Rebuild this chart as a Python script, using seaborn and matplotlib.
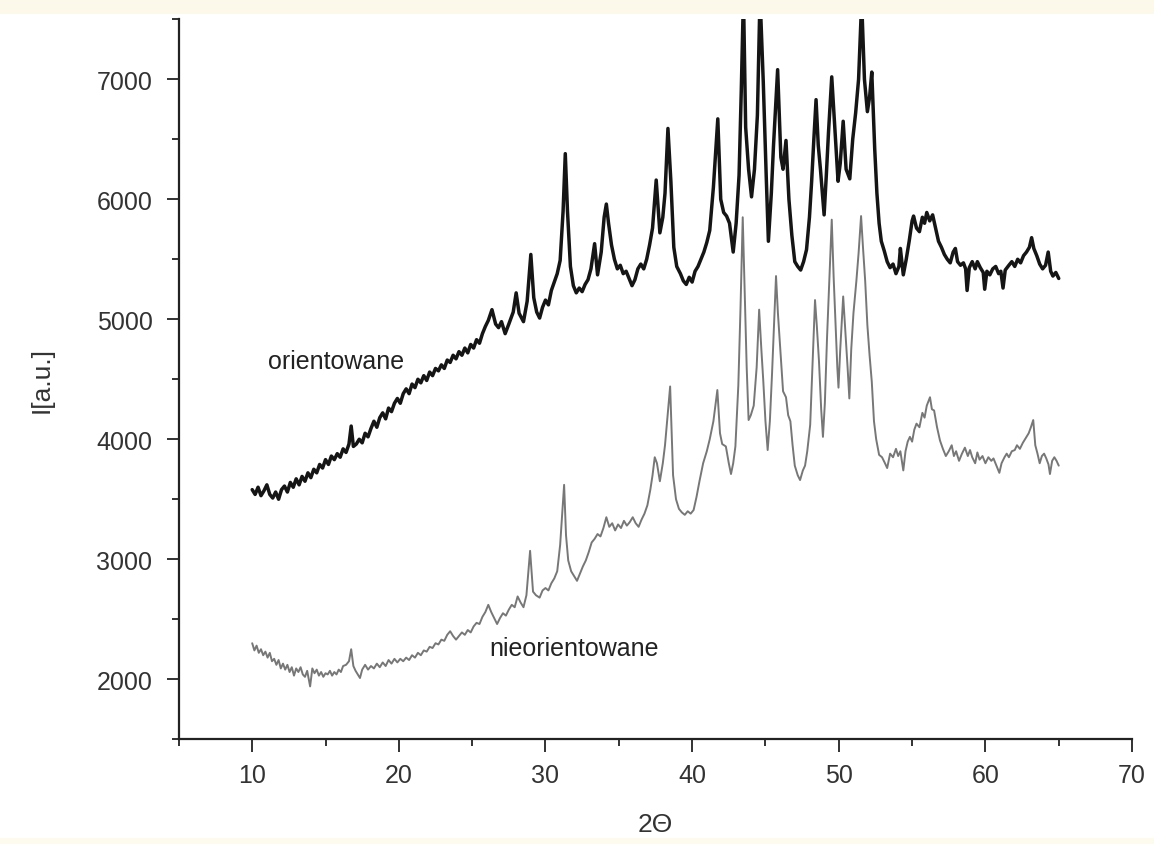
import matplotlib
matplotlib.use("Agg")
import matplotlib.pyplot as plt
from matplotlib.patches import Rectangle
from matplotlib.ticker import MultipleLocator
import seaborn as sns
import pandas as pd

# ---- data: orientowane (black) ----
ori_x = [10.0, 10.2, 10.4, 10.6, 10.8, 11.0, 11.2, 11.4, 11.6, 11.8, 12.0, 12.2, 12.4, 12.6, 12.8,
         13.0, 13.2, 13.4, 13.6, 13.8, 14.0, 14.2, 14.4, 14.6, 14.8, 15.0, 15.2, 15.4, 15.6, 15.8,
         16.0, 16.2, 16.4, 16.6, 16.75, 16.9, 17.1, 17.3, 17.5, 17.7, 17.9, 18.1, 18.3, 18.5, 18.7,
         18.9, 19.1, 19.3, 19.5, 19.7, 19.9, 20.1, 20.3, 20.5, 20.7, 20.9, 21.1, 21.3, 21.5, 21.7,
         21.9, 22.1, 22.3, 22.5, 22.7, 22.9, 23.1, 23.3, 23.5, 23.7, 23.9, 24.1, 24.3, 24.5, 24.7,
         24.9, 25.1, 25.3, 25.5, 25.7, 25.9, 26.1, 26.35, 26.6, 26.8, 27.0, 27.25, 27.5, 27.8, 28.0,
         28.2, 28.5, 28.75, 29.0, 29.2, 29.4, 29.6, 29.8, 30.0, 30.2, 30.4, 30.6, 30.8, 31.0, 31.2,
         31.35, 31.5, 31.7, 31.9, 32.1, 32.3, 32.5, 32.7, 32.9, 33.1, 33.35, 33.55, 33.8, 34.0, 34.15,
         34.3, 34.5, 34.7, 34.9, 35.1, 35.3, 35.5, 35.7, 35.9, 36.1, 36.3, 36.5, 36.7, 36.9, 37.1,
         37.3, 37.55, 37.8, 38.0, 38.15, 38.35, 38.55, 38.75, 38.95, 39.2, 39.4, 39.6, 39.8, 40.0, 40.2,
         40.4, 40.6, 40.8, 41.0, 41.2, 41.45, 41.75, 41.95, 42.15, 42.35, 42.55, 42.8, 43.0, 43.2, 43.35,
         43.5, 43.65, 43.85, 44.05, 44.25, 44.45, 44.63, 44.85, 45.05, 45.2, 45.4, 45.55, 45.83, 46.05, 46.2,
         46.4, 46.6, 46.8, 47.0, 47.2, 47.4, 47.6, 47.8, 48.0, 48.15, 48.3, 48.45, 48.6, 48.75, 49.0,
         49.15, 49.3, 49.52, 49.75, 49.95, 50.1, 50.3, 50.5, 50.75, 50.95, 51.15, 51.35, 51.56, 51.75, 51.95,
         52.1, 52.25, 52.45, 52.6, 52.75, 52.9, 53.1, 53.3, 53.5, 53.7, 53.9, 54.1, 54.2, 54.4, 54.6,
         54.8, 55.0, 55.1, 55.3, 55.5, 55.7, 55.85, 56.0, 56.2, 56.4, 56.6, 56.8, 57.0, 57.2, 57.4,
         57.6, 57.8, 57.95, 58.1, 58.3, 58.5, 58.65, 58.75, 58.9, 59.1, 59.3, 59.45, 59.65, 59.85, 59.95,
         60.1, 60.3, 60.5, 60.7, 60.9, 61.05, 61.2, 61.35, 61.6, 61.8, 62.0, 62.2, 62.4, 62.6, 62.8,
         63.0, 63.15, 63.3, 63.5, 63.7, 63.9, 64.1, 64.28, 64.45, 64.6, 64.8, 65.0]
ori_y = [3580, 3540, 3600, 3530, 3570, 3620, 3540, 3510, 3560, 3500, 3580, 3610, 3560, 3640, 3600,
         3670, 3620, 3690, 3650, 3720, 3680, 3750, 3720, 3790, 3760, 3830, 3790, 3860, 3830, 3880,
         3850, 3920, 3890, 3960, 4110, 3940, 3960, 4000, 3970, 4050, 4020, 4090, 4150, 4100, 4180,
         4220, 4170, 4260, 4230, 4300, 4340, 4300, 4380, 4420, 4380, 4460, 4430, 4500, 4470, 4530,
         4490, 4560, 4530, 4590, 4570, 4620, 4590, 4660, 4640, 4700, 4670, 4730, 4700, 4760, 4720,
         4790, 4760, 4830, 4800, 4880, 4940, 4990, 5080, 4960, 4930, 4980, 4880, 4960, 5060, 5220,
         5050, 4980, 5150, 5540, 5180, 5060, 5010, 5100, 5160, 5120, 5240, 5310, 5380, 5490, 5900,
         6380, 5900, 5440, 5280, 5220, 5260, 5230, 5290, 5330, 5420, 5630, 5370, 5560, 5850, 5960,
         5800, 5620, 5500, 5420, 5450, 5380, 5400, 5340, 5280, 5330, 5420, 5460, 5420, 5500, 5620,
         5760, 6160, 5720, 5850, 6050, 6590, 6150, 5600, 5440, 5380, 5320, 5290, 5350, 5310, 5400,
         5440, 5500, 5560, 5640, 5740, 6100, 6670, 6000, 5890, 5860, 5800, 5560, 5800, 6200, 6900,
         7700, 6600, 6250, 6020, 6250, 6700, 7700, 6980, 6200, 5650, 6050, 6450, 7080, 6350, 6250,
         6490, 6000, 5700, 5480, 5440, 5410, 5480, 5580, 5850, 6150, 6500, 6830, 6450, 6250, 5870,
         6200, 6560, 7020, 6560, 6150, 6300, 6650, 6250, 6170, 6500, 6720, 7000, 7650, 7000, 6730,
         6850, 7060, 6420, 6050, 5800, 5650, 5570, 5480, 5430, 5460, 5380, 5440, 5590, 5370, 5500,
         5650, 5820, 5860, 5760, 5730, 5850, 5800, 5890, 5820, 5870, 5760, 5650, 5600, 5540, 5500,
         5470, 5560, 5590, 5480, 5450, 5470, 5420, 5240, 5430, 5480, 5420, 5480, 5430, 5390, 5250,
         5400, 5370, 5420, 5440, 5380, 5400, 5260, 5410, 5450, 5480, 5440, 5500, 5470, 5530, 5560,
         5600, 5680, 5590, 5530, 5460, 5420, 5450, 5560, 5400, 5360, 5390, 5340]

# ---- data: nieorientowane (grey) ----
nie_x = [10.0, 10.15, 10.3, 10.45, 10.6, 10.75, 10.9, 11.05, 11.2, 11.35, 11.5, 11.65, 11.8, 11.95, 12.1,
         12.25, 12.4, 12.55, 12.7, 12.85, 13.0, 13.15, 13.3, 13.45, 13.6, 13.75, 13.95, 14.1, 14.25, 14.4,
         14.55, 14.7, 14.85, 15.0, 15.15, 15.3, 15.45, 15.6, 15.75, 15.9, 16.05, 16.2, 16.4, 16.6, 16.75,
         16.9, 17.05, 17.2, 17.35, 17.5, 17.7, 17.9, 18.1, 18.3, 18.5, 18.7, 18.9, 19.1, 19.3, 19.5,
         19.7, 19.9, 20.1, 20.3, 20.5, 20.7, 20.9, 21.1, 21.3, 21.5, 21.7, 21.9, 22.1, 22.3, 22.5,
         22.7, 22.9, 23.1, 23.3, 23.5, 23.7, 23.9, 24.1, 24.3, 24.5, 24.7, 24.9, 25.1, 25.3, 25.5,
         25.7, 25.9, 26.1, 26.3, 26.5, 26.7, 26.9, 27.1, 27.3, 27.5, 27.7, 27.9, 28.1, 28.3, 28.5,
         28.7, 28.95, 29.15, 29.35, 29.6, 29.8, 30.0, 30.2, 30.4, 30.6, 30.8, 31.0, 31.15, 31.27, 31.4,
         31.55, 31.75, 31.95, 32.15, 32.35, 32.55, 32.75, 32.95, 33.15, 33.35, 33.55, 33.75, 33.95, 34.15, 34.35,
         34.55, 34.75, 34.95, 35.15, 35.35, 35.55, 35.75, 35.95, 36.15, 36.35, 36.55, 36.75, 36.95, 37.15, 37.3,
         37.45, 37.6, 37.8, 38.0, 38.15, 38.5, 38.7, 38.9, 39.1, 39.3, 39.5, 39.7, 39.9, 40.1, 40.3,
         40.5, 40.75, 41.0, 41.2, 41.45, 41.72, 41.9, 42.05, 42.3, 42.5, 42.65, 42.8, 42.95, 43.15, 43.3,
         43.45, 43.6, 43.72, 43.85, 44.0, 44.2, 44.4, 44.57, 44.72, 44.85, 45.0, 45.15, 45.3, 45.45, 45.6,
         45.72, 45.85, 46.0, 46.2, 46.4, 46.55, 46.7, 46.85, 47.0, 47.2, 47.36, 47.55, 47.7, 47.85, 48.05,
         48.2, 48.38, 48.5, 48.65, 48.8, 48.92, 49.05, 49.2, 49.35, 49.52, 49.65, 49.78, 49.9, 49.98, 50.1,
         50.3, 50.45, 50.6, 50.72, 50.85, 51.0, 51.2, 51.35, 51.52, 51.65, 51.8, 51.95, 52.1, 52.25, 52.4,
         52.55, 52.75, 52.95, 53.15, 53.3, 53.5, 53.7, 53.9, 54.05, 54.2, 54.4, 54.55, 54.7, 54.85, 55.0,
         55.15, 55.3, 55.5, 55.7, 55.85, 56.0, 56.22, 56.35, 56.5, 56.7, 56.9, 57.1, 57.3, 57.5, 57.7,
         57.85, 58.0, 58.2, 58.4, 58.6, 58.8, 58.95, 59.1, 59.3, 59.45, 59.6, 59.8, 60.0, 60.2, 60.4,
         60.55, 60.75, 60.95, 61.1, 61.3, 61.45, 61.6, 61.8, 62.0, 62.15, 62.35, 62.55, 62.75, 62.95, 63.1,
         63.26, 63.4, 63.55, 63.7, 63.85, 64.0, 64.15, 64.3, 64.4, 64.55, 64.7, 64.85, 65.0]
nie_y = [2300, 2240, 2280, 2220, 2250, 2200, 2230, 2180, 2220, 2150, 2170, 2120, 2160, 2090, 2130,
         2080, 2120, 2060, 2100, 2030, 2090, 2060, 2100, 2040, 2020, 2070, 1940, 2090, 2050, 2080,
         2030, 2060, 2020, 2050, 2040, 2070, 2030, 2060, 2040, 2080, 2060, 2110, 2120, 2150, 2250,
         2110, 2070, 2040, 2010, 2080, 2120, 2080, 2110, 2090, 2130, 2100, 2140, 2110, 2160, 2130,
         2170, 2140, 2170, 2150, 2180, 2160, 2200, 2180, 2220, 2200, 2240, 2230, 2270, 2260, 2300,
         2290, 2330, 2320, 2370, 2400, 2360, 2330, 2360, 2390, 2370, 2410, 2390, 2440, 2470, 2460,
         2520, 2560, 2620, 2560, 2510, 2460, 2510, 2550, 2530, 2580, 2620, 2600, 2690, 2640, 2600,
         2700, 3070, 2730, 2700, 2680, 2740, 2760, 2740, 2800, 2840, 2900, 3120, 3400, 3620, 3200,
         2990, 2900, 2860, 2820, 2880, 2940, 2990, 3060, 3140, 3170, 3210, 3190, 3260, 3350, 3270,
         3300, 3240, 3290, 3260, 3320, 3280, 3310, 3350, 3300, 3270, 3330, 3380, 3450, 3580, 3700,
         3850, 3800, 3650, 3800, 3950, 4440, 3700, 3500, 3420, 3390, 3370, 3400, 3380, 3410, 3520,
         3650, 3800, 3900, 4000, 4150, 4410, 4050, 3960, 3940, 3800, 3710, 3800, 3940, 4450, 5100,
         5850, 5150, 4600, 4160, 4200, 4280, 4600, 5080, 4750, 4490, 4150, 3910, 4150, 4550, 5000,
         5360, 5050, 4770, 4400, 4350, 4200, 4150, 3950, 3780, 3700, 3660, 3740, 3780, 3900, 4120,
         4600, 5160, 4950, 4650, 4250, 4020, 4300, 4850, 5300, 5830, 5350, 4950, 4600, 4430, 4750,
         5190, 4900, 4600, 4340, 4750, 5050, 5320, 5550, 5860, 5600, 5320, 4950, 4700, 4480, 4150,
         4000, 3870, 3850, 3800, 3760, 3880, 3850, 3920, 3860, 3900, 3740, 3900, 3980, 4020, 3980,
         4080, 4130, 4100, 4220, 4180, 4280, 4350, 4250, 4240, 4100, 3990, 3920, 3860, 3900, 3950,
         3860, 3900, 3820, 3880, 3930, 3860, 3910, 3850, 3800, 3890, 3830, 3860, 3800, 3850, 3820,
         3840, 3780, 3720, 3800, 3850, 3880, 3850, 3900, 3910, 3950, 3920, 3970, 4010, 4050, 4100,
         4160, 3950, 3880, 3800, 3860, 3880, 3840, 3790, 3710, 3820, 3850, 3820, 3780]

x_ticks = [10, 20, 30, 40, 50, 60, 70]
y_ticks = [2000, 3000, 4000, 5000, 6000, 7000]
label_ori = "orientowane"
label_nie = "nieorientowane"

sns.set_style("ticks")
plt.rcParams["font.family"] = ["Liberation Sans", "DejaVu Sans"]

fig = plt.figure(figsize=(11.54, 8.45), dpi=100, facecolor="white")
ax = fig.add_axes([0.155, 0.124, 0.826, 0.852])

df_ori = pd.DataFrame({"x": ori_x, "y": ori_y})
df_nie = pd.DataFrame({"x": nie_x, "y": nie_y})
sns.lineplot(data=df_nie, x="x", y="y", ax=ax, color="#777777", linewidth=1.4,
             estimator=None, sort=False)
sns.lineplot(data=df_ori, x="x", y="y", ax=ax, color="#151515", linewidth=2.5,
             estimator=None, sort=False)

ax.set_xlim(5, 70)
ax.set_ylim(1500, 7500)
ax.set_xticks(x_ticks)
ax.set_yticks(y_ticks)
ax.xaxis.set_minor_locator(MultipleLocator(5))
ax.yaxis.set_minor_locator(MultipleLocator(500))
for s in ["top", "right"]:
    ax.spines[s].set_visible(False)
for s in ["left", "bottom"]:
    ax.spines[s].set_linewidth(1.6)
    ax.spines[s].set_color("#222222")
ax.tick_params(axis="both", which="major", length=9, width=1.3, labelsize=18,
               colors="#222222", labelcolor="#333333")
ax.tick_params(axis="both", which="minor", length=5, width=1.3, colors="#222222")
ax.tick_params(axis="x", which="major", pad=8)
ax.tick_params(axis="y", which="major", pad=10)
ax.set_facecolor("white")

ax.set_xlabel("2\u0398", fontsize=19, color="#333333", labelpad=18)
ax.set_ylabel("I[a.u.]", fontsize=19, color="#333333", labelpad=31)

ax.text(11.1, 4650, label_ori, fontsize=18, color="#222222", va="center", ha="left")
ax.text(26.2, 2260, label_nie, fontsize=18, color="#222222", va="center", ha="left")

# light cream page border (drawn behind everything)
fig.patches.append(Rectangle((0, 0.982), 1, 0.018, transform=fig.transFigure,
                             facecolor="#fcf8ea", edgecolor="none", zorder=-10))
fig.patches.append(Rectangle((0, 0), 1, 0.007, transform=fig.transFigure,
                             facecolor="#fcfbee", edgecolor="none", zorder=-10))

fig.savefig("out.png", dpi=100, facecolor=fig.get_facecolor())
